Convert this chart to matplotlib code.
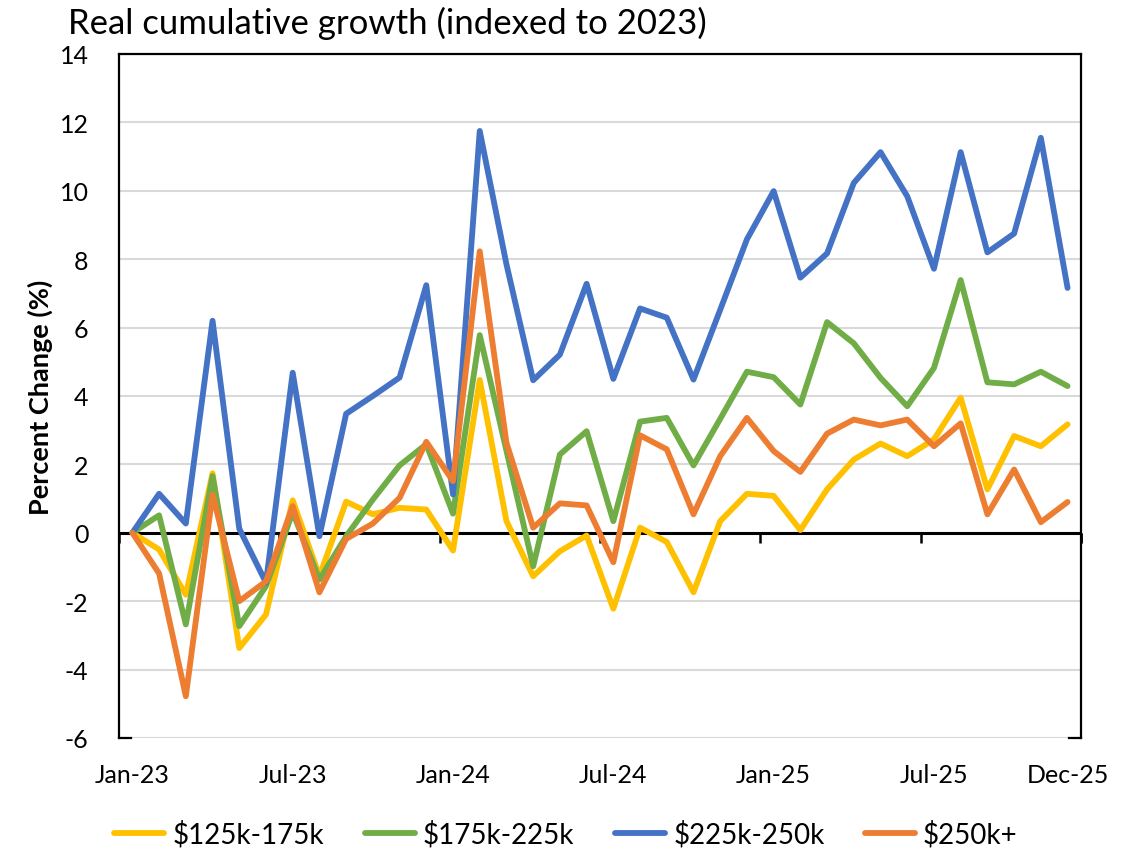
import matplotlib
matplotlib.use('Agg')
import matplotlib.pyplot as plt
import numpy as np

# monthly values, Jan-23 .. Dec-25 (percent change vs 2023)
series_names = ['$125k-175k', '$175k-225k', '$225k-250k', '$250k+']
colors = ['#FFC000', '#70AD47', '#4472C4', '#ED7D31']

inc_125_175 = [0, -0.49, -1.81, 1.74, -3.37, -2.39, 0.95, -1.27, 0.91, 0.54, 0.73, 0.68,
               -0.52, 4.47, 0.34, -1.27, -0.54, -0.08, -2.22, 0.15, -0.27, -1.74, 0.34, 1.14,
               1.08, 0.08, 1.27, 2.14, 2.61, 2.24, 2.73, 3.95, 1.27, 2.83, 2.53, 3.17]
inc_175_225 = [0, 0.51, -2.68, 1.66, -2.73, -1.56, 0.6, -1.37, -0.1, 0.97, 1.97, 2.59,
               0.56, 5.78, 2.4, -0.98, 2.29, 2.97, 0.34, 3.25, 3.36, 1.97, 3.33, 4.71,
               4.55, 3.75, 6.16, 5.54, 4.53, 3.7, 4.82, 7.39, 4.4, 4.34, 4.71, 4.29]
inc_225_250 = [0, 1.14, 0.27, 6.2, 0.12, -1.46, 4.68, -0.1, 3.48, 4.0, 4.54, 7.24,
               1.12, 11.75, 7.85, 4.46, 5.21, 7.28, 4.5, 6.56, 6.29, 4.48, 6.52, 8.58,
               9.99, 7.46, 8.17, 10.23, 11.13, 9.84, 7.72, 11.13, 8.2, 8.75, 11.55, 7.16]
inc_250_plus = [0, -1.19, -4.78, 1.12, -2.0, -1.42, 0.78, -1.74, -0.18, 0.27, 1.02, 2.66,
                1.51, 8.23, 2.63, 0.15, 0.86, 0.8, -0.86, 2.85, 2.44, 0.54, 2.24, 3.36,
                2.39, 1.78, 2.9, 3.31, 3.14, 3.31, 2.53, 3.2, 0.54, 1.85, 0.31, 0.9]

tick_idx = [0, 6, 12, 18, 24, 30, 35]
tick_labels = ['Jan-23', 'Jul-23', 'Jan-24', 'Jul-24', 'Jan-25', 'Jul-25', 'Dec-25']
y_ticks = list(range(-6, 15, 2))

plt.rcParams['font.family'] = ['Lato', 'DejaVu Sans']
plt.rcParams['axes.unicode_minus'] = False

fig = plt.figure(figsize=(11.39, 8.54), dpi=100)
ax = fig.add_axes([0.1045, 0.1347, 0.8445, 0.8009])

months = np.arange(len(inc_125_175))
all_series = [inc_125_175, inc_175_225, inc_225_250, inc_250_plus]
for vals, name, c in zip(all_series, series_names, colors):
    ax.plot(months, vals, color=c, lw=4.2, label=name, solid_joinstyle='round',
            solid_capstyle='round', zorder=3)

ax.set_xlim(-0.5, len(months) - 0.5)
ax.set_ylim(-6, 14)
ax.set_yticks(y_ticks)
ax.set_xticks(tick_idx)
ax.set_xticklabels(tick_labels)
ax.tick_params(axis='both', length=0, labelsize=18)
ax.tick_params(axis='x', pad=18)
ax.tick_params(axis='y', pad=22)

ax.grid(axis='y', color='#d9d9d9', lw=1.5, zorder=0)
ax.set_axisbelow(True)
for s in ['left', 'right', 'top']:
    ax.spines[s].set_color('black')
    ax.spines[s].set_linewidth(1.6)
ax.spines['bottom'].set_visible(False)

# small corner stubs at the bottom of the frame
ax.plot([0, 0.012], [0, 0], color='black', lw=1.6, transform=ax.transAxes, clip_on=False)
ax.plot([0.988, 1], [0, 0], color='black', lw=1.6, transform=ax.transAxes, clip_on=False)

# horizontal axis drawn at zero with outward ticks between months
ax.axhline(0, color='black', lw=2.2, zorder=2.5)
zero_pos = (0 - (-6)) / (14 - (-6))
sec = ax.secondary_xaxis(zero_pos)
sec.set_xticks(np.arange(-0.5, len(months), 6).tolist() + [len(months) - 0.5])
sec.set_xticklabels([])
sec.tick_params(direction='out', length=7, width=1.8, color='black')
sec.spines['bottom'].set_visible(False)

ax.set_ylabel('Percent Change (%)', fontsize=19.5, fontweight='bold')
ax.yaxis.set_label_coords(-0.069, 0.5)

fig.text(0.06, 0.973, 'Real cumulative growth (indexed to 2023)', fontsize=25,
         ha='left', va='center')

fig.legend(loc='center', bbox_to_anchor=(0.497, 0.022), ncol=4, frameon=False,
           fontsize=20, handlelength=1.8, columnspacing=1.45, handletextpad=0.3)

plt.savefig('out.png', dpi=100)
